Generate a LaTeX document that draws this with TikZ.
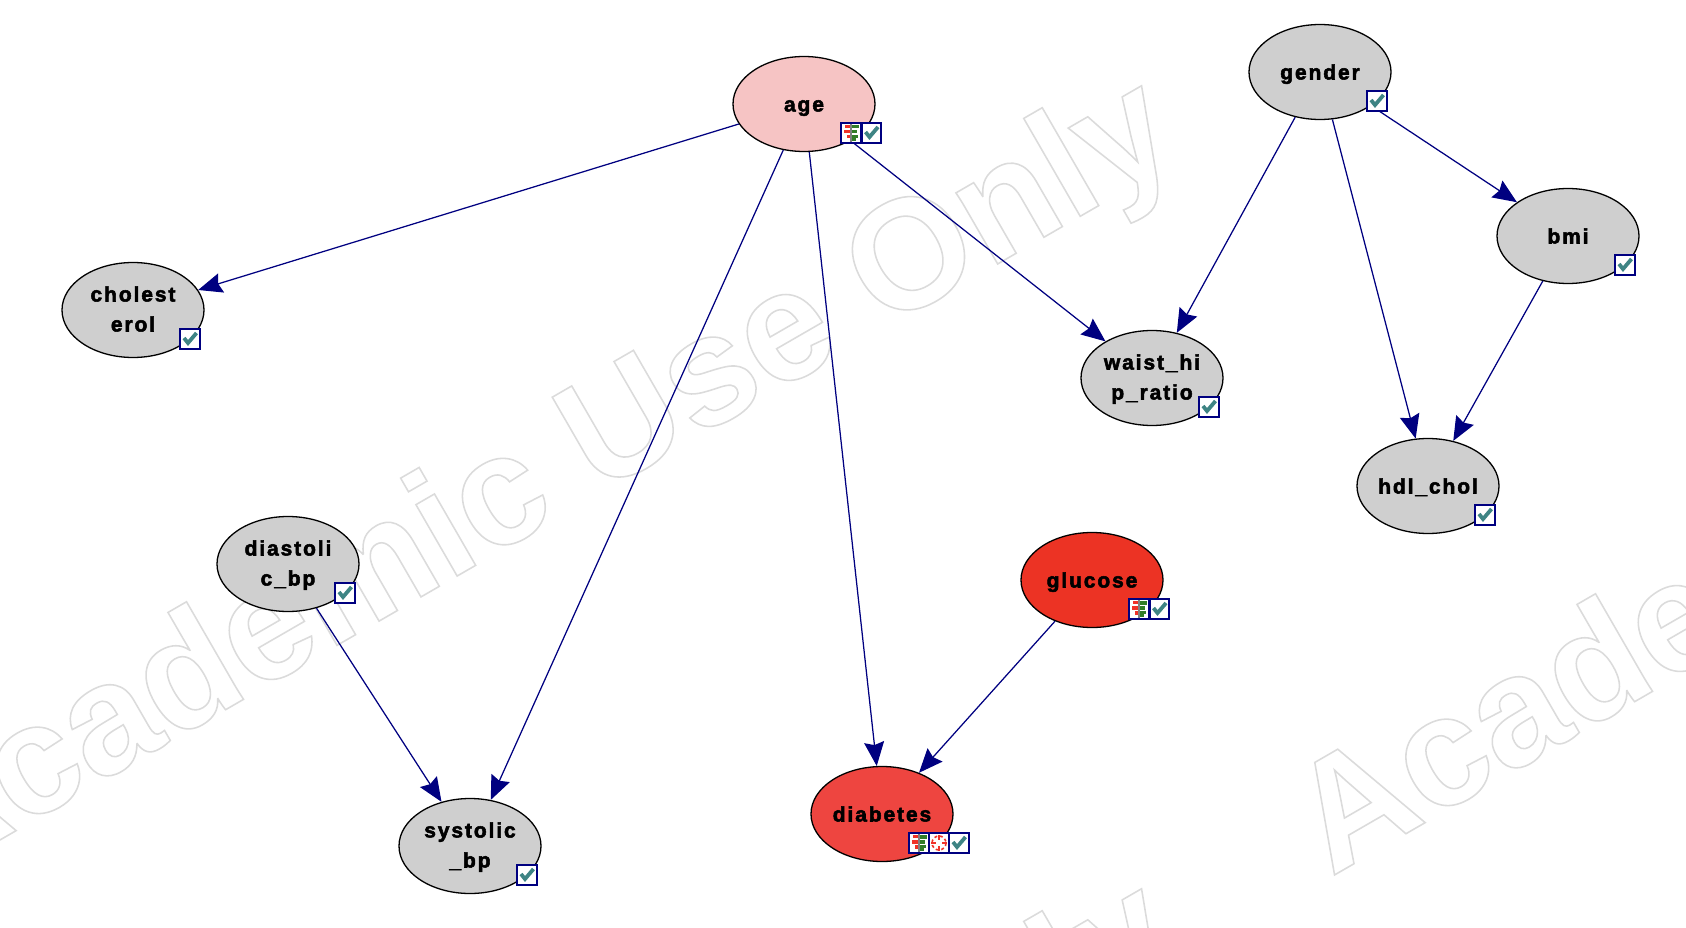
\documentclass[tikz,border=0pt]{standalone}
\usepackage{fontspec}
\usetikzlibrary{positioning, shapes, arrows.meta}
\newfontfamily\varfont[LetterSpace=9, BoldFeatures={FakeBold=2.5}]{Liberation Sans}
\newfontfamily\markfont[BoldFeatures={FakeBold=1}]{Liberation Sans}
\newcommand\topline{\rule{0pt}{20pt}}
\definecolor{edgeblue}{RGB}{0,0,128}
\definecolor{greynode}{RGB}{207,207,207}
\definecolor{agenode}{RGB}{246,196,196}
\definecolor{glucosenode}{RGB}{236,51,36}
\definecolor{diabetesnode}{RGB}{238,69,64}
\definecolor{checkteal}{RGB}{62,132,132}
\definecolor{treered}{RGB}{240,50,40}
\definecolor{treegreen}{RGB}{50,125,40}

\begin{document}
\begin{tikzpicture}[
		x = 1 pt,
		y = -1 pt,
		chance/.style = {ellipse, draw, line width = 1.3 pt, inner sep = 0 pt, minimum width = 142 pt, minimum height = 95 pt, align = center, font = \varfont\bfseries\fontsize{21}{30}\selectfont, execute at begin node = {\rule[-7pt]{0pt}{29pt}}, execute at end node = {\rule[-7pt]{0pt}{29pt}}},
		dependency/.style = {draw = edgeblue, line width = 1.25 pt, -{Stealth[length=24pt, width=20pt, inset=3pt]}},
		iconbox/.style = {rectangle, draw = edgeblue, fill = white, line width = 2.3 pt, inner sep = 0 pt, minimum width = 19.5 pt, minimum height = 19.5 pt},
		checkicon/.style = {iconbox, path picture = {
			\begin{scope}[shift = {(path picture bounding box.center)}]
				\draw[checkteal, line width = 3.8 pt] (-6, -1) -- (-2, 4) -- (6.5, -6);
			\end{scope}
		}},
		treeicon/.style = {iconbox, path picture = {
			\begin{scope}[shift = {(path picture bounding box.center)}]
				\fill[treered] (-6, -8) rectangle (0, -5);
				\fill[treered] (-7, -3) rectangle (0, 0.5);
				\fill[treered] (-4, 2) rectangle (0, 5.5);
				\fill[treegreen] (0, -8) rectangle (8, -4.5);
				\fill[treegreen] (0, -3) rectangle (6, 0.5);
				\fill[treegreen] (0, 2) rectangle (7, 5);
				\fill[treegreen] (0, 5) rectangle (5, 8);
				\fill[gray] (-1.2, -9) rectangle (1.2, 9);
			\end{scope}
		}},
		clockicon/.style = {iconbox, path picture = {
			\begin{scope}[shift = {(path picture bounding box.center)}]
				\draw[treered, line width = 1.6 pt, dash pattern = on 3pt off 2.6pt] (0, 0) circle (7);
				\draw[treered, line width = 1.6 pt] (-8, 0) -- (-3, 0) (3, 0) -- (8, 0) (0, -8) -- (0, -3) (0, 3) -- (0, 8);
			\end{scope}
		}},
		watermark/.style = {anchor = base west, rotate = 30, inner sep = 0 pt, font = \markfont\bfseries\fontsize{156}{160}\selectfont}
	]
	\useasboundingbox (0, 0) rectangle (1686, 928);
	% watermark behind everything
	\node[watermark] (markone) at (-78, 885) {\special{pdf:bc [1 1 1] [0.86 0.86 0.86]}Academic Use Only\special{pdf:ec}};
	\node[watermark] (marktwo) at (1331, 877) {\special{pdf:bc [1 1 1] [0.86 0.86 0.86]}Academic Use Only\special{pdf:ec}};
	\node[watermark] (markthree) at (-78, 1688) {\special{pdf:bc [1 1 1] [0.86 0.86 0.86]}Academic Use Only\special{pdf:ec}};

	\node[chance, fill = agenode] (age) at (804, 104) {age};
	\node[chance, fill = greynode] (gender) at (1320, 72) {gender};
	\node[chance, fill = greynode] (cholesterol) at (133, 310) {\topline cholest\\erol};
	\node[chance, fill = greynode] (waist) at (1152, 378) {\topline waist\_hi\\p\_ratio};
	\node[chance, fill = greynode] (bmi) at (1568, 236) {bmi};
	\node[chance, fill = greynode] (hdl) at (1428, 486) {hdl\_chol};
	\node[chance, fill = greynode] (diastolic) at (288, 564) {\topline diastoli\\c\_bp};
	\node[chance, fill = glucosenode] (glucose) at (1092, 580) {glucose};
	\node[chance, fill = diabetesnode] (diabetes) at (882, 814) {diabetes};
	\node[chance, fill = greynode] (systolic) at (470, 846) {\topline systolic\\\_bp};

	\draw[dependency] (age) -- (cholesterol);
	\draw[dependency] (age) -- (systolic);
	\draw[dependency] (age) -- (diabetes);
	\draw[dependency] (age) -- (waist);
	\draw[dependency] (gender) -- (waist);
	\draw[dependency] (gender) -- (hdl);
	\draw[dependency] (gender) -- (bmi);
	\draw[dependency] (bmi) -- (hdl);
	\draw[dependency] (diastolic) -- (systolic);
	\draw[dependency] (glucose) -- (diabetes);

	% icons sit on the rim of each node
	\node[treeicon, xshift = 47 pt, yshift = -29 pt] (agetree) at (age) {};
	\node[checkicon, xshift = 67.5 pt, yshift = -29 pt] (agecheck) at (age) {};
	\node[checkicon, xshift = 57 pt, yshift = -29 pt] (gendercheck) at (gender) {};
	\node[checkicon, xshift = 57 pt, yshift = -29 pt] (cholesterolcheck) at (cholesterol) {};
	\node[checkicon, xshift = 57 pt, yshift = -29 pt] (waistcheck) at (waist) {};
	\node[checkicon, xshift = 57 pt, yshift = -29 pt] (bmicheck) at (bmi) {};
	\node[checkicon, xshift = 57 pt, yshift = -29 pt] (hdlcheck) at (hdl) {};
	\node[checkicon, xshift = 57 pt, yshift = -29 pt] (diastoliccheck) at (diastolic) {};
	\node[checkicon, xshift = 57 pt, yshift = -29 pt] (systoliccheck) at (systolic) {};
	\node[treeicon, xshift = 47 pt, yshift = -29 pt] (glucosetree) at (glucose) {};
	\node[checkicon, xshift = 67.5 pt, yshift = -29 pt] (glucosecheck) at (glucose) {};
	\node[treeicon, xshift = 37 pt, yshift = -29 pt] (diabetestree) at (diabetes) {};
	\node[clockicon, xshift = 57 pt, yshift = -29 pt] (diabetesclock) at (diabetes) {};
	\node[checkicon, xshift = 77 pt, yshift = -29 pt] (diabetescheck) at (diabetes) {};
\end{tikzpicture}
\end{document}
